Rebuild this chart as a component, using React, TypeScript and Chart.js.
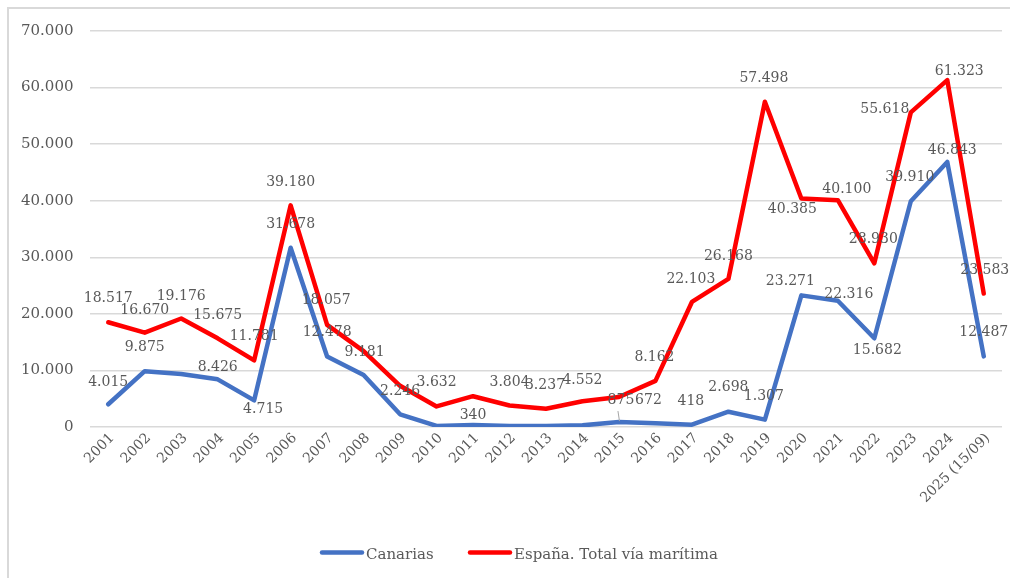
import React, { useEffect, useRef } from "react";
import { Chart, registerables } from "chart.js";

Chart.register(...registerables);

const categories = [
  "2001", "2002", "2003", "2004", "2005", "2006", "2007", "2008", "2009", "2010",
  "2011", "2012", "2013", "2014", "2015", "2016", "2017", "2018", "2019", "2020",
  "2021", "2022", "2023", "2024", "2025 (15/09)",
];

const canarias = [
  4015, 9875, 9382, 8426, 4715, 31678, 12478, 9181, 2246, 196,
  340, 173, 196, 296, 875, 672, 418, 2698, 1307, 23271,
  22316, 15682, 39910, 46843, 12487,
];

const espana = [
  18517, 16670, 19176, 15675, 11781, 39180, 18057, 13424, 7285, 3632,
  5443, 3804, 3237, 4552, 5312, 8162, 22103, 26168, 57498, 40385,
  40100, 28930, 55618, 61323, 23583,
];

const yTicks = [0, 10000, 20000, 30000, 40000, 50000, 60000, 70000];

const seriesNames = ["Canarias", "España. Total vía marítima"];

// label placement (dx, dy from the point) — null = no label shown
const canariasLabelPos: ([number, number] | null)[] = [
  [0, -23.5], [0, -25], null, [0, -13], [9, 8], [0, -25], [0, -25], [1, -24], [0, -24], null,
  [0, -11], null, null, null, [2, -23], [-7, -24.5], [-1, -25], [0, -25.5], [-1, -25], [-11, -15],
  [11, -8], [3, 11], [-1, -25.6], [5, -13.5], [0, -25],
];
const espanaLabelPos: ([number, number] | null)[] = [
  [0, -25], [0, -24], [0, -24], [0, -24], [0, -25.5], [0, -24], [-1, -25.6], null, null, [0, -25],
  null, [0, -24], [-1, -24.5], [0, -22.5], null, [-1, -24.5], [-1, -24], [0, -24], [-1, -25], [-9, 9],
  [9, -12.5], [-1, -25.7], [-26, -4], [12, -10], [1, -25],
];
const leaderLines = [{ dataset: 0, index: 14 }];

const BLUE = "#4472C4";
const RED = "#FF0000";
const TEXT = "#595959";
const GRID = "#D9D9D9";
const FONT = "'DejaVu Serif', 'Liberation Serif', serif";

const fmt = (n: number) => String(Math.round(n)).replace(/\B(?=(\d{3})+(?!\d))/g, ".");

const framePlugin = {
  id: "frame",
  beforeDraw(chart: any) {
    const ctx = chart.ctx;
    ctx.save();
    ctx.fillStyle = "#ffffff";
    ctx.fillRect(0, 0, chart.width, chart.height);
    ctx.fillStyle = GRID;
    ctx.fillRect(7, 7, 2, chart.height - 7);
    ctx.fillRect(7, 7, chart.width - 7, 2);
    ctx.restore();
  },
};

const labelsPlugin = {
  id: "pointLabels",
  afterDatasetsDraw(chart: any) {
    const ctx = chart.ctx;
    const positions = [canariasLabelPos, espanaLabelPos];
    ctx.save();
    ctx.strokeStyle = "#A6A6A6";
    ctx.lineWidth = 1;
    leaderLines.forEach((l) => {
      const p = chart.getDatasetMeta(l.dataset).data[l.index];
      ctx.beginPath();
      ctx.moveTo(p.x + 0.5, p.y - 1);
      ctx.lineTo(p.x - 1, p.y - 11);
      ctx.stroke();
    });
    ctx.font = `14px ${FONT}`;
    ctx.fillStyle = TEXT;
    ctx.textAlign = "center";
    ctx.textBaseline = "alphabetic";
    chart.data.datasets.forEach((ds: any, di: number) => {
      const meta = chart.getDatasetMeta(di);
      meta.data.forEach((pt: any, i: number) => {
        const pos = positions[di][i];
        if (!pos) return;
        ctx.fillText(fmt(ds.data[i]), pt.x + pos[0], pt.y + pos[1] + 5);
      });
    });
    ctx.restore();
  },
};

const legendPlugin = {
  id: "customLegend",
  afterDraw(chart: any) {
    const ctx = chart.ctx;
    const items = [
      { x: 320, color: BLUE, text: seriesNames[0] },
      { x: 468, color: RED, text: seriesNames[1] },
    ];
    ctx.save();
    ctx.font = `15px ${FONT}`;
    ctx.textAlign = "left";
    ctx.textBaseline = "alphabetic";
    items.forEach((it) => {
      ctx.strokeStyle = it.color;
      ctx.lineWidth = 4.5;
      ctx.lineCap = "round";
      ctx.beginPath();
      ctx.moveTo(it.x + 2, 552.5);
      ctx.lineTo(it.x + 42, 552.5);
      ctx.stroke();
      ctx.fillStyle = TEXT;
      ctx.fillText(it.text, it.x + 46, 559);
    });
    ctx.restore();
  },
};

export default function App() {
  const ref = useRef<HTMLCanvasElement | null>(null);

  useEffect(() => {
    if (!ref.current) return;
    const chart = new Chart(ref.current, {
      type: "line",
      data: {
        labels: categories,
        datasets: [
          {
            label: seriesNames[0],
            data: canarias,
            borderColor: BLUE,
            backgroundColor: BLUE,
            borderWidth: 4.5,
            pointRadius: 0,
            borderJoinStyle: "round",
            borderCapStyle: "round",
            tension: 0,
            order: 1,
          },
          {
            label: seriesNames[1],
            data: espana,
            borderColor: RED,
            backgroundColor: RED,
            borderWidth: 4.5,
            pointRadius: 0,
            borderJoinStyle: "round",
            borderCapStyle: "round",
            tension: 0,
            order: 0,
          },
        ],
      },
      options: {
        responsive: false,
        animation: false,
        layout: { padding: { left: 0, right: 8, top: 31, bottom: 0 } },
        plugins: {
          legend: { display: false },
          tooltip: { enabled: false },
          title: { display: false },
        },
        scales: {
          x: {
            type: "category",
            offset: true,
            grid: { display: false, drawTicks: false },
            border: { display: false },
            ticks: {
              autoSkip: false,
              maxRotation: 45,
              minRotation: 45,
              padding: 3,
              labelOffset: 4,
              color: TEXT,
              font: { family: FONT, size: 14 },
            },
            afterFit: (scale: any) => {
              scale.height = 151;
            },
          },
          y: {
            min: 0,
            max: 70000,
            afterBuildTicks: (scale: any) => {
              scale.ticks = yTicks.map((v) => ({ value: v }));
            },
            grid: { color: GRID, lineWidth: 1.5, drawTicks: false },
            border: { display: false },
            ticks: {
              padding: 16.5,
              color: TEXT,
              font: { family: FONT, size: 15 },
              callback: (v: any) => fmt(Number(v)),
            },
            afterFit: (scale: any) => {
              scale.width = 90;
            },
          },
        },
      },
      plugins: [framePlugin, labelsPlugin, legendPlugin],
    });
    return () => chart.destroy();
  }, []);

  return (
    <canvas
      ref={ref}
      width={1010}
      height={578}
      style={{ position: "absolute", left: 0, top: 0, width: 1010, height: 578, display: "block" }}
    />
  );
}
